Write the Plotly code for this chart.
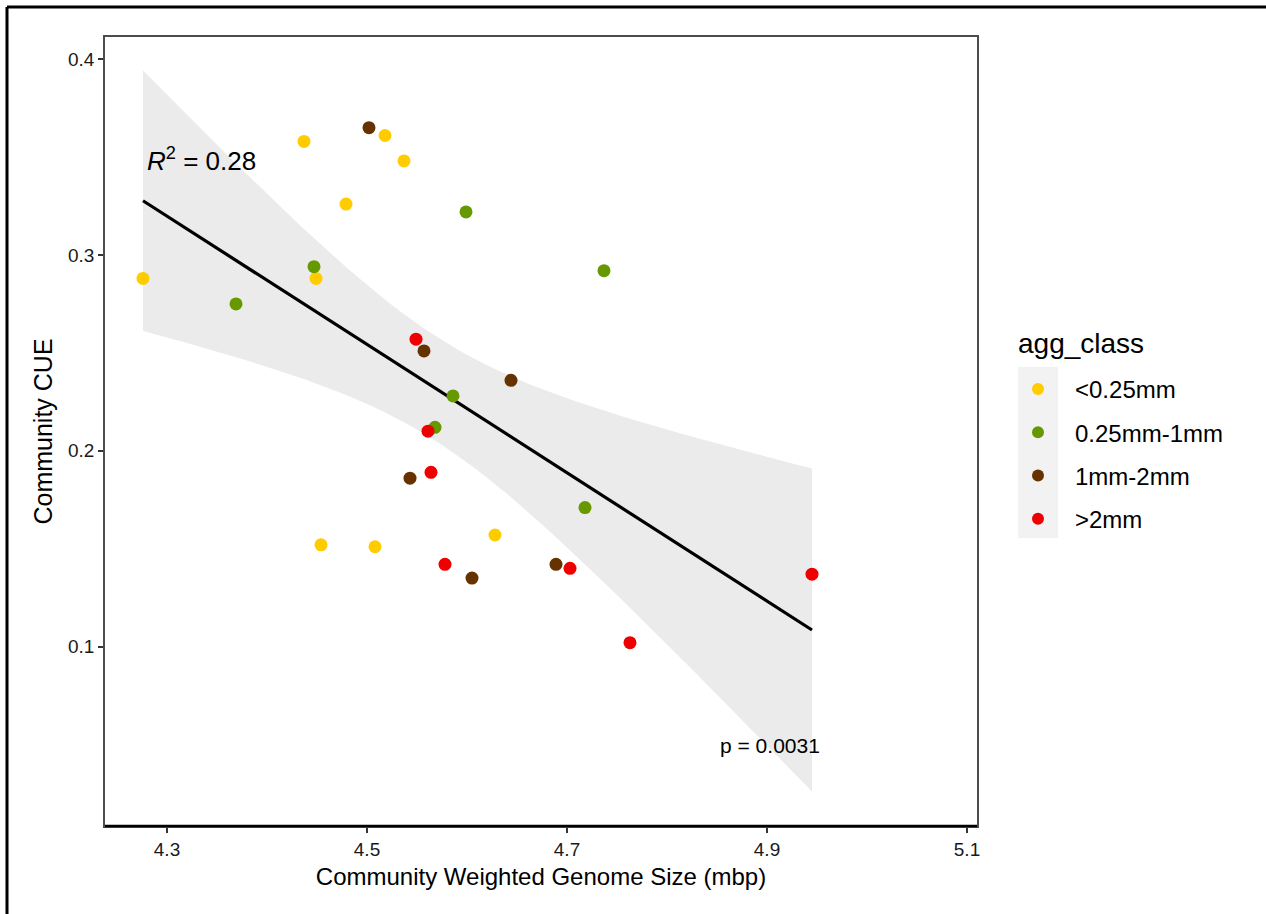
import numpy as np
import plotly.graph_objects as go

# ---- data ----
classes = ["<0.25mm", "0.25mm-1mm", "1mm-2mm", ">2mm"]
class_colors = ["#FFCC00", "#669900", "#663300", "#EE0000"]

x_small = [4.276, 4.437, 4.449, 4.454, 4.479, 4.508, 4.518, 4.537, 4.628]
y_small = [0.288, 0.358, 0.288, 0.152, 0.326, 0.151, 0.361, 0.348, 0.157]

x_mid = [4.369, 4.447, 4.599, 4.737, 4.586, 4.568, 4.718]
y_mid = [0.275, 0.294, 0.322, 0.292, 0.228, 0.212, 0.171]

x_large = [4.502, 4.557, 4.644, 4.543, 4.605, 4.689]
y_large = [0.365, 0.251, 0.236, 0.186, 0.135, 0.142]

x_xl = [4.549, 4.561, 4.564, 4.578, 4.703, 4.763, 4.945]
y_xl = [0.257, 0.210, 0.189, 0.142, 0.140, 0.102, 0.137]

xs_all = [x_small, x_mid, x_large, x_xl]
ys_all = [y_small, y_mid, y_large, y_xl]

r2_label = "<i>R</i><sup>2</sup> = 0.28"
p_label = "p = 0.0031"
x_title = "Community Weighted Genome Size (mbp)"
y_title = "Community CUE"
legend_title = "agg_class"
x_ticks = [4.3, 4.5, 4.7, 4.9, 5.1]
y_ticks = [0.1, 0.2, 0.3, 0.4]

# ---- linear fit with 95% confidence band (t, df = n-2) ----
X = np.array(sum(xs_all, []))
Y = np.array(sum(ys_all, []))
n = len(X)
b1, b0 = np.polyfit(X, Y, 1)
resid = Y - (b0 + b1 * X)
s = np.sqrt(np.sum(resid ** 2) / (n - 2))
t_crit = 2.052  # t(0.975, df=27)
xg = np.linspace(X.min(), X.max(), 80)
yg = b0 + b1 * xg
se = s * np.sqrt(1 / n + (xg - X.mean()) ** 2 / np.sum((X - X.mean()) ** 2))
upper = yg + t_crit * se
lower = yg - t_crit * se

FONT = "Liberation Sans, Arial, sans-serif"

fig = go.Figure()
fig.add_trace(go.Scatter(
    x=np.concatenate([xg, xg[::-1]]), y=np.concatenate([upper, lower[::-1]]),
    fill="toself", fillcolor="#EBEBEB", line=dict(width=0), mode="lines",
    hoverinfo="skip", showlegend=False))
fig.add_trace(go.Scatter(x=xg, y=yg, mode="lines",
                         line=dict(color="black", width=3.2), showlegend=False))
for name, col, xv, yv in zip(classes, class_colors, xs_all, ys_all):
    fig.add_trace(go.Scatter(x=xv, y=yv, mode="markers", name=name,
                             legendgroup=name,
                             marker=dict(color=col, size=13, line=dict(width=0))))

# plot panel pixel geometry
L, R, T, B = 105, 977, 37, 826
W, H = 1266, 914
pw, ph = R - L, B - T

def px(xp):
    return (xp - L) / pw

def py(yp):
    return (B - yp) / ph

shapes = [
    # outer frame (top and left)
    dict(type="line", xref="paper", yref="paper", x0=px(7), x1=px(W + 5),
         y0=py(7), y1=py(7), line=dict(color="black", width=3)),
    dict(type="line", xref="paper", yref="paper", x0=px(7), x1=px(7),
         y0=py(7), y1=py(H + 5), line=dict(color="black", width=3)),
    # legend key background
    dict(type="rect", xref="paper", yref="paper", x0=px(1018), x1=px(1058),
         y0=py(538), y1=py(367), fillcolor="#F2F2F2", line=dict(width=0),
         layer="below"),
    # bottom axis black line
    dict(type="line", xref="paper", yref="paper", x0=0, x1=1, y0=0, y1=0,
         line=dict(color="black", width=2.5)),
]

fig.update_layout(
    width=W, height=H,
    margin=dict(l=L, r=W - R, t=T, b=H - B),
    paper_bgcolor="white", plot_bgcolor="white",
    font=dict(family=FONT, color="black"),
    shapes=shapes,
    showlegend=True,
    legend=dict(
        font=dict(size=24, family=FONT),
        x=px(1001), y=py(367), xanchor="left", yanchor="top",
        bgcolor="rgba(0,0,0,0)", tracegroupgap=9, itemsizing="constant",
        itemwidth=64,
    ),
    xaxis=dict(
        range=[4.238, 5.110], tickvals=x_ticks,
        ticktext=[str(v) for v in x_ticks],
        showgrid=False, zeroline=False, ticks="outside", ticklen=5,
        tickcolor="#333333", tickwidth=1.5,
        tickfont=dict(size=19, color="#1a1a1a"),
        showline=True, linecolor="#4d4d4d", linewidth=1.5, mirror=True,
        title=dict(text=x_title, font=dict(size=24), standoff=10),
    ),
    yaxis=dict(
        range=[0.0084, 0.4113], tickvals=y_ticks,
        ticktext=[str(v) for v in y_ticks],
        showgrid=False, zeroline=False, ticks="outside", ticklen=5,
        tickcolor="#333333", tickwidth=1.5,
        tickfont=dict(size=19, color="#1a1a1a"),
        showline=True, linecolor="#4d4d4d", linewidth=1.5, mirror=True,
        title=dict(text=y_title, font=dict(size=25), standoff=8),
    ),
    annotations=[
        dict(x=4.278, y=0.349, xref="x", yref="y", text=r2_label,
             showarrow=False, xanchor="left", yanchor="middle",
             font=dict(size=26, family=FONT)),
        dict(x=4.955, y=0.0496, xref="x", yref="y", text=p_label,
             showarrow=False, xanchor="right", yanchor="middle",
             font=dict(size=21, family=FONT)),
        dict(x=px(1016), y=py(343), xref="paper", yref="paper",
             text=legend_title, showarrow=False, xanchor="left",
             yanchor="middle", font=dict(size=28, family=FONT)),
    ],
)

fig.write_html("out.html")
